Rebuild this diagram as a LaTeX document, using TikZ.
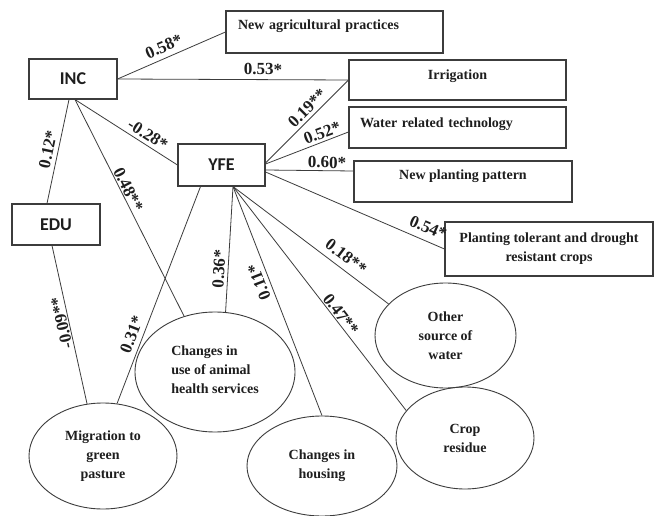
\documentclass[tikz,border=0pt]{standalone}
\usepackage{fontspec}
\setmainfont{Liberation Serif}
\newfontfamily\calib{Carlito}
\usetikzlibrary{shapes.geometric}
\definecolor{ln}{HTML}{3C3C3C}
\definecolor{tx}{HTML}{1E1E1E}
\begin{document}
\begin{tikzpicture}[x=1pt,y=-1pt,
  box/.style={draw=ln, line width=1.1pt, rectangle, inner sep=0pt, text=tx, font=\bfseries\fontsize{14}{19}\selectfont},
  var/.style={draw=ln, line width=1.1pt, rectangle, inner sep=0pt, text=tx, font=\calib\bfseries\fontsize{18}{20}\selectfont},
  oval/.style={draw=ln, line width=0.9pt, ellipse, inner sep=0pt, align=center, text=tx, font=\bfseries\fontsize{14}{19}\selectfont},
  conn/.style={draw=ln, line width=0.8pt},
  lab/.style={font=\bfseries\fontsize{17}{17}\selectfont, text=tx, inner sep=1pt, sloped, allow upside down}
]
\useasboundingbox (0,0) rectangle (654,516);
\fill[white] (0,0) rectangle (654,516);

\node[var, minimum width=88pt, minimum height=40pt] (inc) at (73,79) {INC};
\node[var, minimum width=87pt, minimum height=42pt] (yfe) at (221.5,165) {YFE};
\node[var, minimum width=88pt, minimum height=41pt] (edu) at (56,224.5) {EDU};

\node[box, minimum width=217pt, minimum height=42pt, inner xsep=12pt, text width=193pt, align=left, text height=10pt, text depth=14pt] (agri) at (334.5,32) {New agricultural practices};
\node[box, minimum width=217pt, minimum height=40pt, text height=10pt, text depth=10pt] (irr) at (457.5,80) {Irrigation};
\node[box, minimum width=217pt, minimum height=41pt, inner xsep=11pt, text width=195pt, align=left, text height=10pt, text depth=9pt] (water) at (457.5,127.5) {Water related technology};
\node[box, minimum width=218pt, minimum height=41pt, text height=10pt, text depth=13pt] (plant) at (463,181.5) {New planting pattern};
\node[box, minimum width=208pt, minimum height=54pt, align=center] (tol) at (549,249) {Planting tolerant and drought\\resistant crops};

\node[oval, minimum width=160pt, minimum height=120pt, align=left] (animal) at (215,372) {Changes in\\use of animal\\health services\rule[-5pt]{0pt}{5pt}};
\node[oval, minimum width=148pt, minimum height=106pt] (migr) at (103,456) {Migration to\\green\\pasture};
\node[oval, minimum width=150pt, minimum height=100pt] (house) at (322,466) {Changes in\\housing};
\node[oval, minimum width=141pt, minimum height=105pt] (other) at (445.5,335.5) {Other\\source of\\water};
\node[oval, minimum width=138pt, minimum height=102pt] (crop) at (465,438) {Crop\\residue};

\draw[conn] (inc.east) -- node[lab,pos=.47,above=4pt]{0.58*} (agri.west);
\draw[conn] (inc.east) -- node[lab,pos=.63,above=3pt]{0.53*} (irr.west);
\draw[conn] ([xshift=-9pt]edu.north) -- node[lab,pos=.5,above=3pt]{0.12*} ([xshift=-4pt]inc.south);
\draw[conn] ([xshift=2pt]inc.south) -- node[lab,pos=.43,above=0pt]{0.48**} (animal.119);
\draw[conn] ([xshift=2pt]inc.south) -- node[lab,pos=.66,above=2.5pt]{-0.28*} (yfe.west);
\draw[conn] (migr.107) -- node[lab,pos=.52,above=0pt]{-0.09**} ([xshift=-4pt]edu.south);
\draw[conn] (migr.75) -- node[lab,pos=.30,above=4pt]{0.31*} ([xshift=-21pt]yfe.south);
\draw[conn] (animal.80) -- node[lab,pos=.34,above=2pt]{0.36*} ([xshift=11.5pt]yfe.south);
\draw[conn] (house.north) -- node[lab,pos=.6,above=3pt]{0.11*} ([xshift=11.5pt]yfe.south);
\draw[conn] ([xshift=11.5pt]yfe.south) -- node[lab,pos=.68,above=5pt]{0.18**} (other.151);
\draw[conn] ([xshift=11.5pt]yfe.south) -- node[lab,pos=.59,above=0pt]{0.47**} (crop.155);
\draw[conn] ([yshift=2pt]yfe.east) -- node[lab,pos=.58,above=2pt]{0.19**} (irr.west);
\draw[conn] ([yshift=1pt]yfe.east) -- node[lab,pos=.72,above=1.5pt]{0.52*} ([yshift=-4.5pt]water.west);
\draw[conn] ([yshift=-5pt]yfe.east) -- node[lab,pos=.7,above=1pt]{0.60*} ([yshift=10.5pt]plant.west);
\draw[conn] ([yshift=-7pt]yfe.east) -- node[lab,pos=.88,above=6pt]{0.54*} (tol.west);
\end{tikzpicture}
\end{document}
